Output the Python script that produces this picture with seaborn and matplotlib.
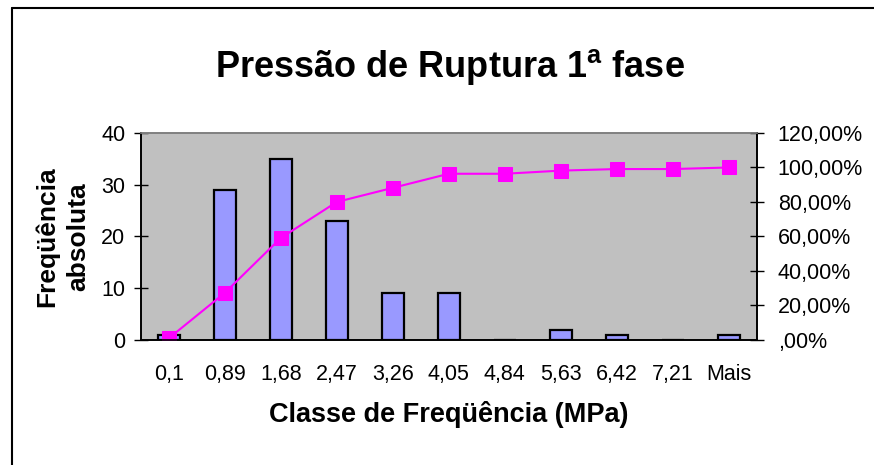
import numpy as np
import pandas as pd
import seaborn as sns
import matplotlib
matplotlib.use("Agg")
import matplotlib.pyplot as plt
from matplotlib.lines import Line2D
from matplotlib.ticker import FuncFormatter

# data
classes = ["0,1", "0,89", "1,68", "2,47", "3,26", "4,05", "4,84", "5,63", "6,42", "7,21", "Mais"]
freq = [1, 29, 35, 23, 9, 9, 0, 2, 1, 0, 1]
cum_pct = [0.0091, 0.2727, 0.5909, 0.8000, 0.8818, 0.9636, 0.9636, 0.9818, 0.9909, 0.9909, 1.0]

sns.set_theme(style="white")
plt.rcParams["font.family"] = ["Liberation Sans", "DejaVu Sans"]
plt.rcParams["mathtext.fontset"] = "custom"
plt.rcParams["mathtext.bf"] = "Liberation Sans:bold"
plt.rcParams["mathtext.rm"] = "Liberation Sans"
for k in ("text.color", "axes.labelcolor", "xtick.color", "ytick.color"):
    plt.rcParams[k] = "black"

df = pd.DataFrame({"classe": classes, "freq": freq, "acum": cum_pct})


def pct_fmt(v, pos):
    s = ("%.2f%%" % (v * 100)).replace(".", ",")
    return s[1:] if s.startswith("0,") else s


fig = plt.figure(figsize=(8.74, 4.65), dpi=100)
ax = fig.add_axes([0.161, 0.269, 0.705, 0.445])
ax.set_facecolor("#C0C0C0")

sns.barplot(data=df, x="classe", y="freq", ax=ax, color="#9999FF",
            width=0.4, edgecolor="black", linewidth=1.6, saturation=1)
ax.set_ylim(0, 40)
ax.set_xlim(-0.5, len(classes) - 0.5)
ax.set_yticks([0, 10, 20, 30, 40])

ax2 = ax.twinx()
sns.lineplot(x=np.arange(len(classes)), y=df["acum"], ax=ax2, color="#FF00FF",
             marker="s", markersize=10, markeredgecolor="#FF00FF", linewidth=1.5)
ax2.set_ylim(0, 1.2)
ax2.set_yticks(np.arange(0, 1.21, 0.2))
ax2.yaxis.set_major_formatter(FuncFormatter(pct_fmt))
ax2.set_ylabel("")

# category boundary ticks on x
ax.set_xticks(np.arange(len(classes)))
ax.set_xticklabels(classes)
ax.tick_params(axis="x", which="major", length=0, pad=17, labelsize=15.5)
ax.set_xticks(np.arange(-0.5, len(classes), 1), minor=True)
ax.tick_params(axis="x", which="minor", direction="out", length=6, width=1, color="black")
ax.tick_params(axis="y", direction="inout", length=10, width=1, color="black", labelsize=15.5, pad=6, left=True)
ax2.tick_params(axis="y", direction="inout", length=10, width=1, color="black", labelsize=15.5, pad=10, right=True)

for a in (ax, ax2):
    for s in ("left", "right", "bottom"):
        a.spines[s].set_color("black")
        a.spines[s].set_linewidth(1.2)
    a.spines["top"].set_color("#808080")
    a.spines["top"].set_linewidth(1.2)

ax.set_xlabel("Classe de Freqüência (MPa)", fontsize=19.5, fontweight="bold", labelpad=12)
ax.set_ylabel("Freqüência\nabsoluta", fontsize=19, fontweight="bold", labelpad=8, linespacing=1.35)

fig.text(0.515, 0.855, r"Pressão de Ruptura 1$^{\mathbf{a}}$ fase", ha="center", va="center",
         fontsize=26, fontweight="bold")

# chart frame (top and left edges)
fig.add_artist(Line2D([0.0137, 1.0], [0.983, 0.983], color="black", linewidth=1.5, transform=fig.transFigure))
fig.add_artist(Line2D([0.0137, 0.0137], [0.0, 0.983], color="black", linewidth=1.5, transform=fig.transFigure))

fig.savefig("out.png", dpi=100)
